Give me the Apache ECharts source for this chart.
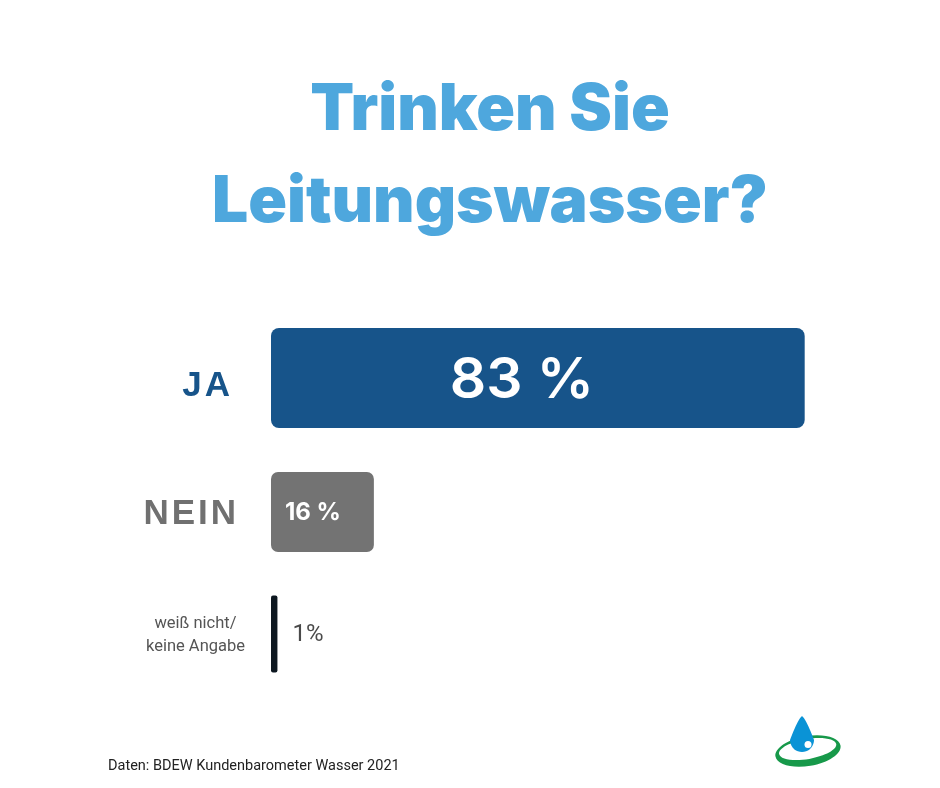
<!DOCTYPE html>
<html>
<head>
<meta charset="utf-8">
<script src="https://cdn.jsdelivr.net/npm/echarts@6/dist/echarts.min.js"></script>
<style>
html,body{margin:0;padding:0;background:#fff;}
#chart{width:940px;height:788px;}
</style>
</head>
<body>
<div id="chart"></div>
<script>
// ---- data ----
const titleText = ['Trinken Sie', 'Leitungswasser?'];
const categories = ['JA', 'NEIN', 'weiß nicht/\nkeine Angabe'];
const values = [83, 16, 1];
const valueSuffix = [' %', ' %', '%'];
const sourceText = 'Daten: BDEW Kundenbarometer Wasser 2021';

// ---- styles ----
const barColors = ['#17548a', '#737373', '#0d1720'];
const barThickness = [100, 80, 77];
const barShiftY = [0, 6, 0];
const barRadius = [8, 7, 2];
const labelStyles = [
  {pos: 'inside', dx: -16, dy: 3, size: 57, weight: 600, color: '#ffffff', family: 'Inter'},
  {pos: 'insideLeft', dx: 14, dy: 1, size: 24, weight: 700, color: '#ffffff', family: 'Inter'},
  {pos: 'right', dx: 15, dy: 1, size: 24, weight: 400, color: '#4a4a4a', family: 'Roboto'}
];
const catRich = ['ja', 'nein', 'na'];

// logo drop outline (decoration)
function dropPoints(cx, tipY, r, cy) {
  const pts = [];
  const n = 12;
  for (let k = 0; k <= n; k++) {
    const t = k / n;
    pts.push([cx + r * Math.pow(t, 0.75), tipY + (cy - tipY) * t]);
  }
  for (let a = 0; a <= 180; a += 10) {
    const rad = a * Math.PI / 180;
    pts.push([cx + r * Math.cos(rad), cy + r * Math.sin(rad)]);
  }
  for (let k = n; k >= 0; k--) {
    const t = k / n;
    pts.push([cx - r * Math.pow(t, 0.75), tipY + (cy - tipY) * t]);
  }
  return pts;
}

const chart = echarts.init(document.getElementById('chart'), null, {renderer: 'canvas'});

const option = {
  backgroundColor: '#ffffff',
  animation: false,
  grid: {left: 271, right: 26, top: 314, bottom: 90},
  xAxis: {
    type: 'value', min: 0, max: 100,
    show: false
  },
  yAxis: {
    type: 'category',
    data: categories,
    inverse: true,
    axisLine: {show: false},
    axisTick: {show: false},
    splitLine: {show: false},
    axisLabel: {
      margin: 26,
      formatter: function (value, index) {
        const key = catRich[index];
        if (key === 'na') {
          return value.split('\n').map(l => '{na|' + l + '}').join('\n');
        }
        const letters = value.split('');
        return letters.map((c, k) => '{' + key + (k === letters.length - 1 ? 'End' : '') + '|' + c + '}').join('');
      },
      rich: {
        ja: {fontFamily: 'Liberation Sans', fontWeight: 'bold', fontSize: 35, color: '#17548a', padding: [16, 3, 0, 0]},
        jaEnd: {fontFamily: 'Liberation Sans', fontWeight: 'bold', fontSize: 35, color: '#17548a', padding: [16, 15, 0, 0]},
        nein: {fontFamily: 'Liberation Sans', fontWeight: 'bold', fontSize: 35, color: '#707070', padding: [16, 3, 0, 0]},
        neinEnd: {fontFamily: 'Liberation Sans', fontWeight: 'bold', fontSize: 35, color: '#707070', padding: [16, 9, 0, 0]},
        na: {fontFamily: 'Roboto', fontSize: 16.5, color: '#555555', lineHeight: 23, align: 'center', padding: [2, 0, 0, 0]}
      }
    }
  },
  series: [{
    type: 'custom',
    data: values.map((v, i) => [v, categories[i]]),
    encode: {x: 0, y: 1},
    renderItem: function (params, api) {
      const i = params.dataIndex;
      const v = api.value(0);
      const c = api.value(1);
      const p0 = api.coord([0, c]);
      const p1 = api.coord([v, c]);
      const h = barThickness[i];
      const cy = p0[1] + barShiftY[i];
      const w = p1[0] - p0[0];
      const ls = labelStyles[i];
      let tx, align;
      if (ls.pos === 'inside') { tx = p0[0] + w / 2 + ls.dx; align = 'center'; }
      else if (ls.pos === 'insideLeft') { tx = p0[0] + ls.dx; align = 'left'; }
      else { tx = p1[0] + ls.dx; align = 'left'; }
      return {
        type: 'group',
        children: [{
          type: 'rect',
          shape: {x: p0[0], y: cy - h / 2, width: w, height: h, r: barRadius[i]},
          style: {fill: barColors[i]}
        }, {
          type: 'text',
          style: {
            text: values[i] + valueSuffix[i],
            x: tx, y: cy + ls.dy,
            align: align, verticalAlign: 'middle',
            fill: ls.color,
            fontFamily: ls.family, fontSize: ls.size, fontWeight: ls.weight
          }
        }]
      };
    }
  }],
  graphic: [
    {
      type: 'text', x: 490, y: 65,
      style: {
        text: titleText.join('\n'),
        align: 'center', verticalAlign: 'top',
        fontFamily: 'Inter', fontWeight: 900, fontSize: 64, lineHeight: 92,
        fill: '#4ea7dd'
      }
    },
    {
      type: 'text', x: 108, y: 759,
      style: {text: sourceText, fontFamily: 'Roboto', fontSize: 14.5, fill: '#222222'}
    },
    {type: 'ellipse', shape: {cx: 808, cy: 751, rx: 33, ry: 15}, rotation: 0.17, originX: 808, originY: 751, style: {fill: '#17994a'}},
    {type: 'ellipse', shape: {cx: 808, cy: 749, rx: 29, ry: 10}, rotation: 0.17, originX: 808, originY: 751, style: {fill: '#ffffff'}},
    {type: 'polygon', shape: {points: dropPoints(802, 716, 12, 740)}, style: {fill: '#0a93d6'}},
    {type: 'circle', shape: {cx: 808, cy: 744.5, r: 3.5}, style: {fill: '#ffffff'}}
  ]
};
chart.setOption(option);
</script>
</body>
</html>
